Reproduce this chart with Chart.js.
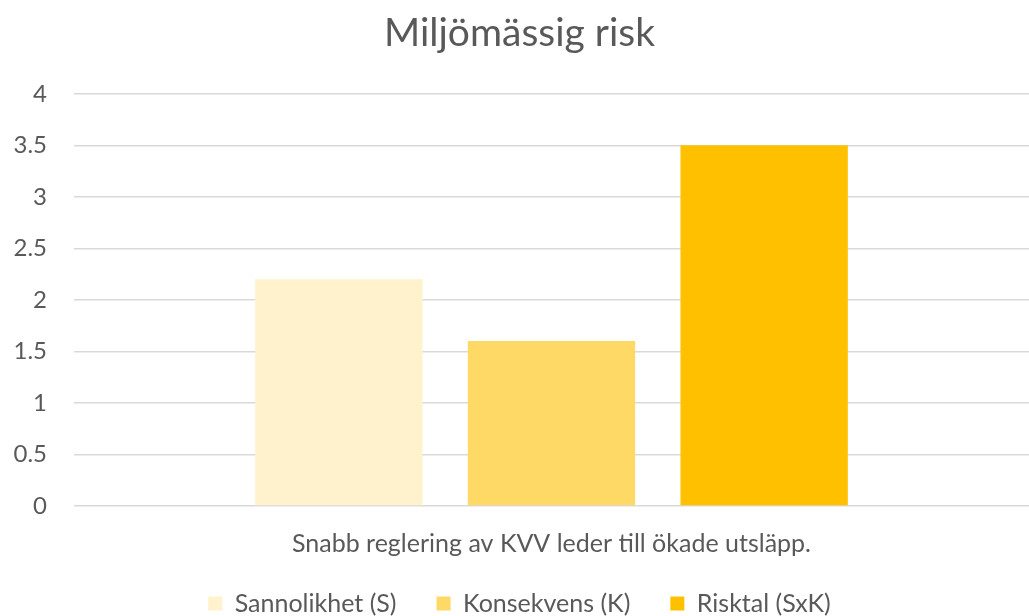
<!DOCTYPE html>
<html>
<head>
<meta charset="utf-8">
<script src="https://cdn.jsdelivr.net/npm/chart.js@4/dist/chart.umd.min.js"></script>
<style>
  html, body { margin: 0; padding: 0; background: #ffffff; }
  #wrap { width: 1029px; height: 616px; }
</style>
</head>
<body>
<div id="wrap"><canvas id="riskChart" width="1029" height="616"></canvas></div>
<script>
const chartTitle = "Miljömässig risk";
const categories = ["Snabb reglering av KVV leder till ökade utsläpp."];
const seriesNames = ["Sannolikhet (S)", "Konsekvens (K)", "Risktal (SxK)"];
const sannolikhet = [2.2];
const konsekvens = [1.6];
const risktal = [3.5];
const seriesColors = ["#FFF2CC", "#FFD966", "#FFC000"];

const textColor = "#595959";
const fontFamily = "Lato, 'Noto Sans', sans-serif";

// legend padding gives the wide gap between items, but it also pads vertically,
// so reserve less room and pull the legend up a bit after layout
const legendHeightPlugin = {
  id: "legendHeight",
  beforeLayout(chart) {
    const legend = chart.legend;
    if (!legend || legend._fitWrapped) return;
    const origFit = legend.fit;
    legend.fit = function () {
      origFit.call(this);
      this.height = 50;
    };
    legend._fitWrapped = true;
  },
  afterLayout(chart) {
    const legend = chart.legend;
    if (!legend) return;
    legend.top -= 15;
    legend.bottom = chart.height;
  },
};

const ctx = document.getElementById("riskChart").getContext("2d");

new Chart(ctx, {
  type: "bar",
  data: {
    labels: categories,
    datasets: [sannolikhet, konsekvens, risktal].map((values, i) => ({
      label: seriesNames[i],
      data: values,
      backgroundColor: seriesColors[i],
      borderWidth: 0,
      categoryPercentage: 0.668,
      barPercentage: 0.787,
    })),
  },
  options: {
    responsive: false,
    animation: false,
    layout: { padding: { top: 6, right: 0, left: 10, bottom: 0 } },
    scales: {
      x: {
        grid: { display: false, drawTicks: false },
        border: { display: false },
        ticks: { color: textColor, font: { family: fontFamily, size: 25, lineHeight: 1 }, padding: 25 },
        afterFit(scale) { scale.height = 60; },
      },
      y: {
        min: 0,
        max: 4,
        ticks: {
          stepSize: 0.5,
          color: textColor,
          font: { family: fontFamily, size: 24 },
          padding: 27,
          callback: (v) => String(v),
        },
        grid: { color: "#d9d9d9", lineWidth: 1.5, drawTicks: false },
        border: { display: false },
        afterFit(scale) { scale.width = 64; },
      },
    },
    plugins: {
      title: {
        display: true,
        text: chartTitle,
        color: textColor,
        font: { family: fontFamily, size: 39, weight: "normal" },
        padding: { top: 4, bottom: 37 },
      },
      legend: {
        position: "bottom",
        labels: {
          color: textColor,
          font: { family: fontFamily, size: 25 },
          boxWidth: 14,
          boxHeight: 14,
          padding: 40,
        },
      },
      tooltip: { enabled: false },
    },
  },
  plugins: [legendHeightPlugin],
});
</script>
</body>
</html>
